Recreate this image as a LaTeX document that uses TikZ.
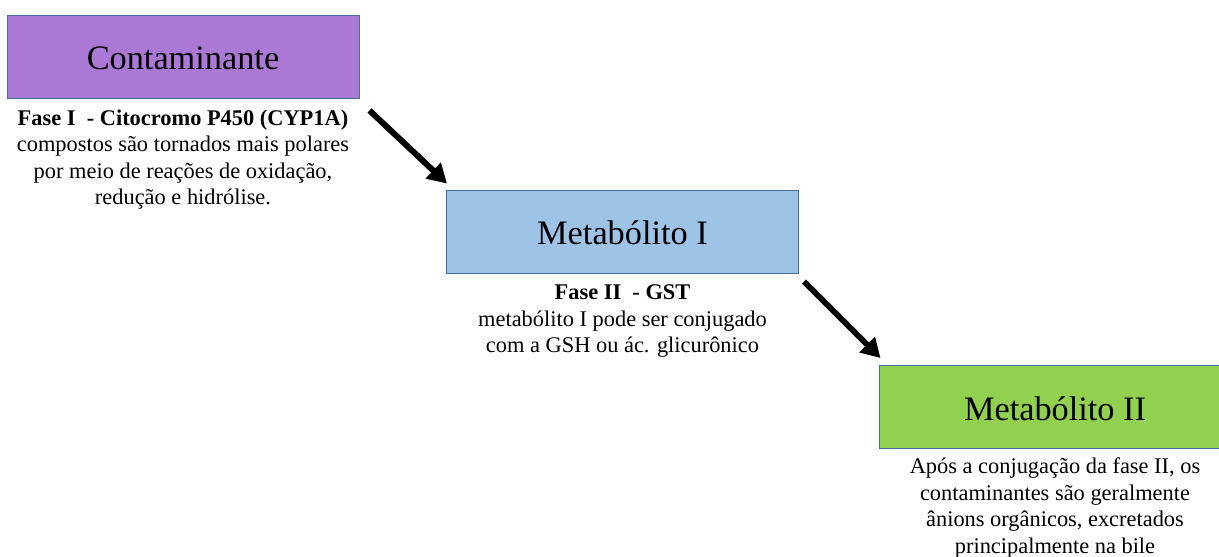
\documentclass[tikz,border=0pt]{standalone}
\usepackage{fontspec}
\setmainfont{Liberation Serif}
\usetikzlibrary{arrows.meta,calc}
\definecolor{cpurple}{RGB}{171,120,214}
\definecolor{cblue}{RGB}{157,195,230}
\definecolor{cgreen}{RGB}{146,208,80}
\definecolor{cborder}{RGB}{65,113,156}
\tikzset{
  box/.style={draw=cborder, line width=1pt, minimum width=352pt, minimum height=83pt,
    inner sep=0pt, text height=26pt, text depth=0pt,
    font=\fontsize{34.3}{40}\selectfont},
  desc/.style={anchor=base, align=center, inner sep=0pt,
    font=\fontsize{22.4}{26.4}\selectfont},
  arr/.style={line width=6pt, -{Triangle[length=19pt,width=21pt]}}
}
\begin{document}
\begin{tikzpicture}[x=1pt,y=-1pt]
\fill[white] (0,0) rectangle (1219,557);
\useasboundingbox (0,0) rectangle (1219,557);
\clip (0,0) rectangle (1219,557);
\node[box, fill=cpurple] (c1) at (183,56.5) {Contaminante};
\node[box, fill=cblue] (m1) at (622.5,231.5) {Metabólito I};
\node[box, fill=cgreen] (m2) at (1055,407) {Metabólito II};
\node[desc] (d1) at ($(c1.south)+(0,106)$) {\textbf{Fase I\ \ - Citocromo P450 (CYP1A)}\\compostos são tornados mais polares\\por meio de reações de oxidação,\\redução e hidrólise.};
\node[desc] (d2) at ($(m1.south)+(0,79)$) {\textbf{Fase II\ \ - GST}\\metabólito I pode ser conjugado\\com a GSH ou ác. glicurônico};
\node[desc] (d3) at ($(m2.south)+(0,104)$) {Após a conjugação da fase II, os\\contaminantes são geralmente\\ânions orgânicos, excretados\\principalmente na bile};
\draw[arr] ($(c1.south east)+(10,12)$) -- ($(m1.north west)+(1,-6)$);
\draw[arr] ($(m1.south east)+(5,8)$) -- ($(m2.north west)+(2,-7)$);
\end{tikzpicture}
\end{document}
